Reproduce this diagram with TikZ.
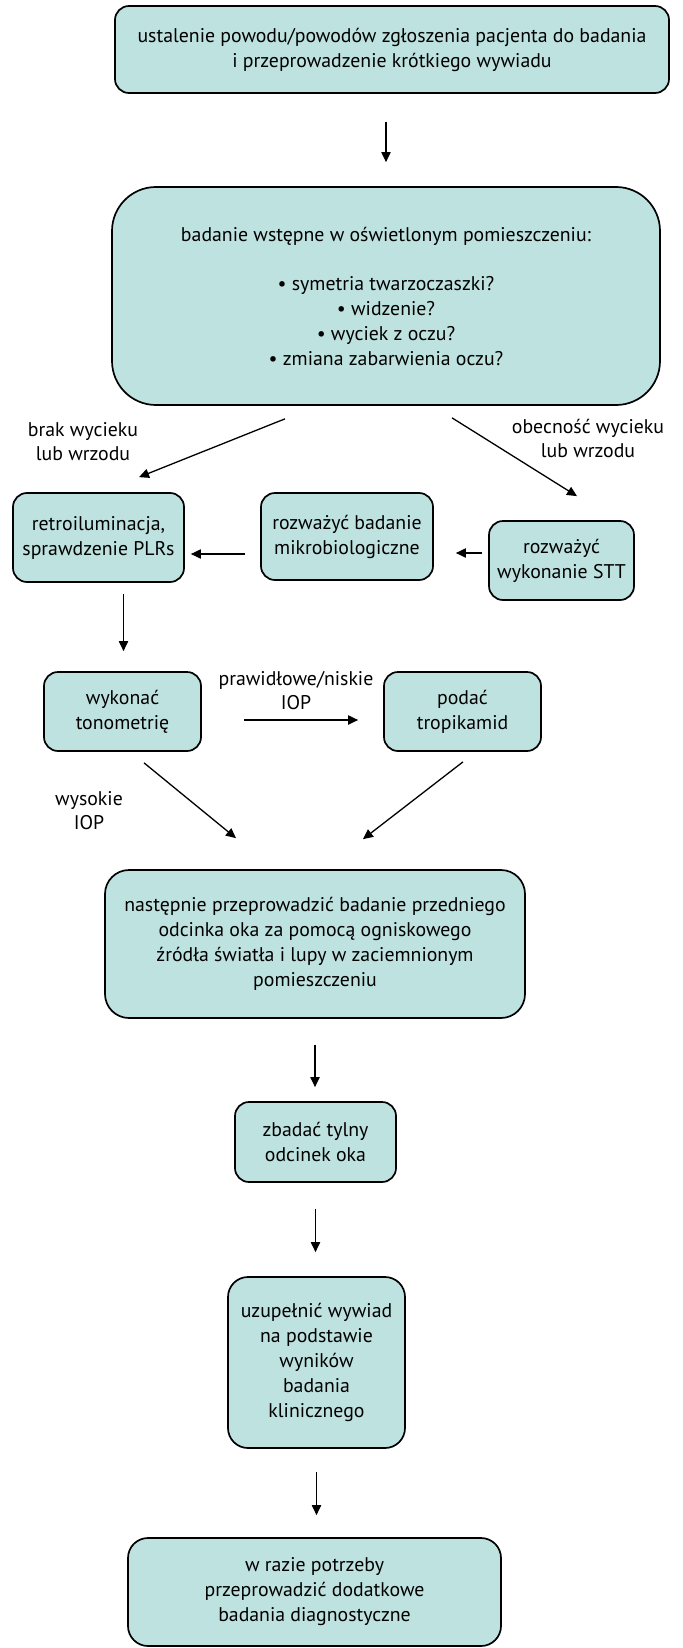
\documentclass[tikz,border=0pt]{standalone}
\usepackage{fontspec}
\setmainfont{PT Sans}
\usetikzlibrary{positioning, arrows.meta}
\definecolor{boxfill}{RGB}{190,226,224}
\tikzset{
  stepbox/.style={draw, line width=0.85pt, fill=boxfill, rounded corners=7pt,
    align=center, inner sep=0pt, font=\fontsize{9.9}{12.5}\selectfont},
  note/.style={align=center, inner sep=0pt, font=\fontsize{9.9}{12}\selectfont},
}

\begin{document}
\begin{tikzpicture}[->, >={Triangle[length=5pt, width=4.6pt]}, x=0.5pt, y=-0.5pt, line width=0.65pt]
    \useasboundingbox (0,0) rectangle (682,1648);
    % boxes
    \node[stepbox, minimum width=277pt, minimum height=43.5pt] (start) at (392,49.5)
        {ustalenie powodu/powodów zgłoszenia pacjenta do badania\\i przeprowadzenie krótkiego wywiadu};
    \node[stepbox, minimum width=274pt, minimum height=109pt, rounded corners=22pt] (exam) at (386,296)
        {badanie wstępne w oświetlonym pomieszczeniu:\\[12pt]
         \textbullet{} symetria twarzoczaszki?\\ \textbullet{} widzenie?\\
         \textbullet{} wyciek z oczu?\\ \textbullet{} zmiana zabarwienia oczu?};
    \node[stepbox, minimum width=85.5pt, minimum height=44.5pt] (retro) at (98.5,537.5)
        {retroiluminacja,\\sprawdzenie PLRs};
    \node[stepbox, minimum width=86pt, minimum height=43.5pt] (mikro) at (347,536.5)
        {rozważyć badanie\\mikrobiologiczne};
    \node[stepbox, minimum width=72.5pt, minimum height=39.5pt] (stt) at (561.5,560.5)
        {rozważyć\\wykonanie STT};
    \node[stepbox, minimum width=78.5pt, minimum height=39.5pt] (tono) at (122.5,711.5)
        {wykonać\\tonometrię};
    \node[stepbox, minimum width=78.5pt, minimum height=39.5pt] (tropi) at (462.5,711.5)
        {podać\\tropikamid};
    \node[stepbox, minimum width=210pt, minimum height=74pt, rounded corners=12pt] (front) at (315,944)
        {następnie przeprowadzić badanie przedniego\\odcinka oka za pomocą ogniskowego\\źródła światła i lupy w zaciemnionym\\pomieszczeniu};
    \node[stepbox, minimum width=80.5pt, minimum height=40pt] (back) at (315.5,1142)
        {zbadać tylny\\odcinek oka};
    \node[stepbox, minimum width=88.5pt, minimum height=85.5pt, rounded corners=10pt] (history) at (316.5,1362.5)
        {uzupełnić wywiad\\na podstawie\\wyników\\badania\\klinicznego};
    \node[stepbox, minimum width=186.5pt, minimum height=54pt, rounded corners=10pt] (extra) at (314.5,1592)
        {w razie potrzeby\\przeprowadzić dodatkowe\\badania diagnostyczne};
    % labels
    \node[note] (noulcer) at (83,442) {brak wycieku\\lub wrzodu};
    \node[note] (ulcer) at (588,438) {obecność wycieku\\lub wrzodu};
    \node[note] (lowiop) at (296,691) {prawidłowe/niskie\\IOP};
    \node[note] (highiop) at (89,811) {wysokie\\IOP};
    % arrows
    \draw[shorten <=14pt, shorten >=12pt] (start.south -| exam.north) -- (exam.north);
    \draw ([shift={(-101,13)}]exam.south) -- ([shift={(40.5,-15)}]retro.north);
    \draw ([shift={(66,12)}]exam.south) -- ([shift={(15.5,-24)}]stt.north);
    \draw ([shift={(-6,-7.5)}]stt.west) -- ([shift={(22,16.5)}]mikro.east);
    \draw ([shift={(-15,17.5)}]mikro.west) -- ([shift={(6,16.5)}]retro.east);
    \draw ([shift={(25,11)}]retro.south) -- ([shift={(1,-20)}]tono.north);
    \draw ([shift={(42,8.5)}]tono.east) -- ([shift={(-25,8.5)}]tropi.west);
    \draw ([shift={(21.5,11)}]tono.south) -- ([shift={(-79,-31)}]front.north);
    \draw ([shift={(0.5,10)}]tropi.south) -- ([shift={(48,-30)}]front.north);
    \draw[shorten <=13pt, shorten >=7pt] (front.south) -- (front.south |- back.north);
    \draw[shorten <=13pt, shorten >=12pt] (back.south) -- (back.south |- history.north);
    \draw[shorten <=11.5pt, shorten >=11pt] (history.south) -- (history.south |- extra.north);
\end{tikzpicture}
\end{document}
